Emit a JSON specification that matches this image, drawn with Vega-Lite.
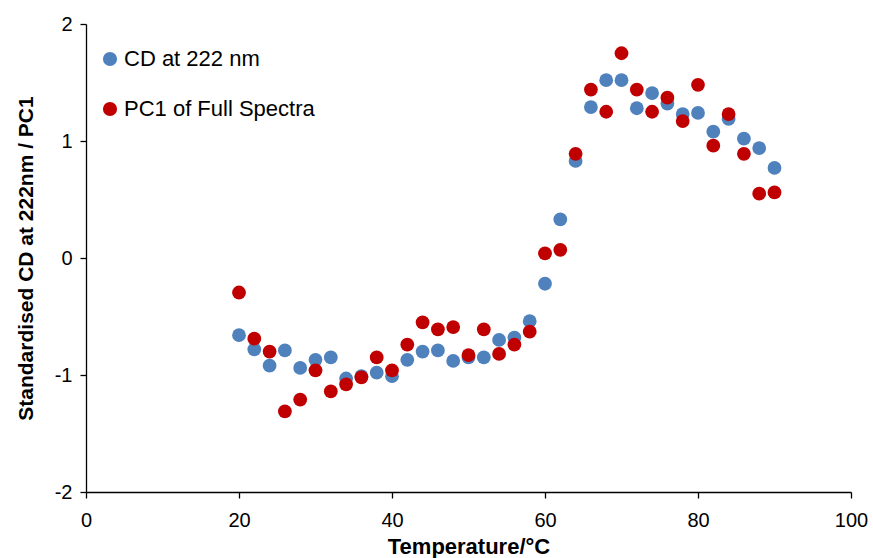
{
  "$schema": "https://vega.github.io/schema/vega-lite/v6.json",
  "autosize": "none",
  "width": 765,
  "height": 468,
  "padding": {"left": 86, "top": 24, "right": 22, "bottom": 66},
  "background": "white",
  "config": {
    "view": {"stroke": null},
    "font": "Liberation Sans",
    "axis": {"grid": false, "domainColor": "black", "tickColor": "black", "labelColor": "black", "titleColor": "black", "labelFontSize": 20, "titleFontSize": 21, "titleFontWeight": "bold", "labelFont": "Liberation Sans", "titleFont": "Liberation Sans", "domainWidth": 1.3, "tickWidth": 1.3, "labelFlush": false, "labelOverlap": false}
  },
  "data": {
    "values": [
      {"temp": 20, "value": -0.66, "series": "CD at 222 nm"},
      {"temp": 22, "value": -0.78, "series": "CD at 222 nm"},
      {"temp": 24, "value": -0.92, "series": "CD at 222 nm"},
      {"temp": 26, "value": -0.79, "series": "CD at 222 nm"},
      {"temp": 28, "value": -0.94, "series": "CD at 222 nm"},
      {"temp": 30, "value": -0.87, "series": "CD at 222 nm"},
      {"temp": 32, "value": -0.85, "series": "CD at 222 nm"},
      {"temp": 34, "value": -1.03, "series": "CD at 222 nm"},
      {"temp": 36, "value": -1.01, "series": "CD at 222 nm"},
      {"temp": 38, "value": -0.98, "series": "CD at 222 nm"},
      {"temp": 40, "value": -1.01, "series": "CD at 222 nm"},
      {"temp": 42, "value": -0.87, "series": "CD at 222 nm"},
      {"temp": 44, "value": -0.80, "series": "CD at 222 nm"},
      {"temp": 46, "value": -0.79, "series": "CD at 222 nm"},
      {"temp": 48, "value": -0.88, "series": "CD at 222 nm"},
      {"temp": 50, "value": -0.85, "series": "CD at 222 nm"},
      {"temp": 52, "value": -0.85, "series": "CD at 222 nm"},
      {"temp": 54, "value": -0.70, "series": "CD at 222 nm"},
      {"temp": 56, "value": -0.68, "series": "CD at 222 nm"},
      {"temp": 58, "value": -0.54, "series": "CD at 222 nm"},
      {"temp": 60, "value": -0.22, "series": "CD at 222 nm"},
      {"temp": 62, "value": 0.33, "series": "CD at 222 nm"},
      {"temp": 64, "value": 0.83, "series": "CD at 222 nm"},
      {"temp": 66, "value": 1.29, "series": "CD at 222 nm"},
      {"temp": 68, "value": 1.52, "series": "CD at 222 nm"},
      {"temp": 70, "value": 1.52, "series": "CD at 222 nm"},
      {"temp": 72, "value": 1.28, "series": "CD at 222 nm"},
      {"temp": 74, "value": 1.41, "series": "CD at 222 nm"},
      {"temp": 76, "value": 1.32, "series": "CD at 222 nm"},
      {"temp": 78, "value": 1.23, "series": "CD at 222 nm"},
      {"temp": 80, "value": 1.24, "series": "CD at 222 nm"},
      {"temp": 82, "value": 1.08, "series": "CD at 222 nm"},
      {"temp": 84, "value": 1.19, "series": "CD at 222 nm"},
      {"temp": 86, "value": 1.02, "series": "CD at 222 nm"},
      {"temp": 88, "value": 0.94, "series": "CD at 222 nm"},
      {"temp": 90, "value": 0.77, "series": "CD at 222 nm"},
      {"temp": 20, "value": -0.295, "series": "PC1 of Full Spectra"},
      {"temp": 22, "value": -0.69, "series": "PC1 of Full Spectra"},
      {"temp": 24, "value": -0.80, "series": "PC1 of Full Spectra"},
      {"temp": 26, "value": -1.31, "series": "PC1 of Full Spectra"},
      {"temp": 28, "value": -1.21, "series": "PC1 of Full Spectra"},
      {"temp": 30, "value": -0.96, "series": "PC1 of Full Spectra"},
      {"temp": 32, "value": -1.14, "series": "PC1 of Full Spectra"},
      {"temp": 34, "value": -1.08, "series": "PC1 of Full Spectra"},
      {"temp": 36, "value": -1.02, "series": "PC1 of Full Spectra"},
      {"temp": 38, "value": -0.85, "series": "PC1 of Full Spectra"},
      {"temp": 40, "value": -0.96, "series": "PC1 of Full Spectra"},
      {"temp": 42, "value": -0.74, "series": "PC1 of Full Spectra"},
      {"temp": 44, "value": -0.55, "series": "PC1 of Full Spectra"},
      {"temp": 46, "value": -0.61, "series": "PC1 of Full Spectra"},
      {"temp": 48, "value": -0.59, "series": "PC1 of Full Spectra"},
      {"temp": 50, "value": -0.83, "series": "PC1 of Full Spectra"},
      {"temp": 52, "value": -0.61, "series": "PC1 of Full Spectra"},
      {"temp": 54, "value": -0.82, "series": "PC1 of Full Spectra"},
      {"temp": 56, "value": -0.74, "series": "PC1 of Full Spectra"},
      {"temp": 58, "value": -0.63, "series": "PC1 of Full Spectra"},
      {"temp": 60, "value": 0.04, "series": "PC1 of Full Spectra"},
      {"temp": 62, "value": 0.07, "series": "PC1 of Full Spectra"},
      {"temp": 64, "value": 0.89, "series": "PC1 of Full Spectra"},
      {"temp": 66, "value": 1.44, "series": "PC1 of Full Spectra"},
      {"temp": 68, "value": 1.25, "series": "PC1 of Full Spectra"},
      {"temp": 70, "value": 1.75, "series": "PC1 of Full Spectra"},
      {"temp": 72, "value": 1.44, "series": "PC1 of Full Spectra"},
      {"temp": 74, "value": 1.25, "series": "PC1 of Full Spectra"},
      {"temp": 76, "value": 1.37, "series": "PC1 of Full Spectra"},
      {"temp": 78, "value": 1.17, "series": "PC1 of Full Spectra"},
      {"temp": 80, "value": 1.48, "series": "PC1 of Full Spectra"},
      {"temp": 82, "value": 0.96, "series": "PC1 of Full Spectra"},
      {"temp": 84, "value": 1.23, "series": "PC1 of Full Spectra"},
      {"temp": 86, "value": 0.89, "series": "PC1 of Full Spectra"},
      {"temp": 88, "value": 0.55, "series": "PC1 of Full Spectra"},
      {"temp": 90, "value": 0.56, "series": "PC1 of Full Spectra"}
    ]
  },
  "mark": {"type": "point", "filled": true, "opacity": 1, "size": 190, "shape": "circle"},
  "encoding": {
    "x": {"field": "temp", "type": "quantitative", "title": "Temperature/°C",
      "scale": {"domain": [0, 100], "nice": false},
      "axis": {"values": [0, 20, 40, 60, 80, 100], "tickSize": 6, "labelPadding": 12, "titlePadding": 6, "titleFontSize": 22}},
    "y": {"field": "value", "type": "quantitative", "title": "Standardised CD at 222nm / PC1",
      "scale": {"domain": [-2, 2], "nice": false, "zero": false},
      "axis": {"values": [-2, -1, 0, 1, 2], "tickSize": 6, "labelPadding": 8, "titlePadding": 18,
        "labelExpr": "datum.value < 0 ? '-' + abs(datum.value) : '' + datum.value"}},
    "color": {"field": "series", "type": "nominal", "title": null,
      "scale": {"domain": ["CD at 222 nm", "PC1 of Full Spectra"], "range": ["#4F81BD", "#C00000"]},
      "legend": {"orient": "none", "legendX": 13, "legendY": 24, "symbolType": "circle", "symbolSize": 200, "symbolOpacity": 1, "labelFontSize": 22, "labelColor": "black", "labelOffset": 3, "rowPadding": 28, "labelLimit": 0, "labelFont": "Liberation Sans"}}
  }
}
